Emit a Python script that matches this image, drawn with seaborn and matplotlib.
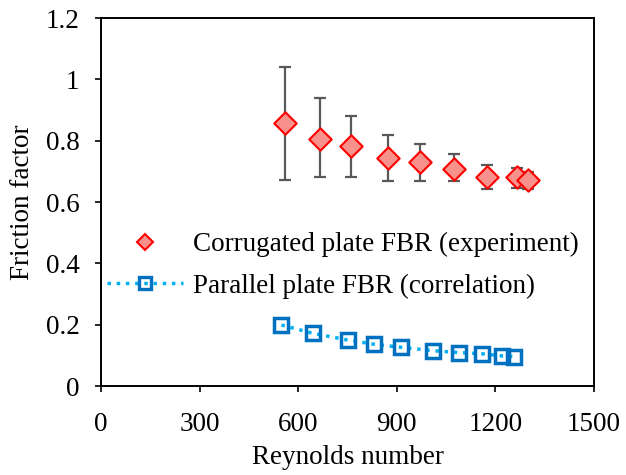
import numpy as np
import pandas as pd
import matplotlib
matplotlib.use("Agg")
import matplotlib.pyplot as plt
import seaborn as sns
from matplotlib.lines import Line2D
from matplotlib.ticker import FuncFormatter

# Data
re_exp = [559, 665, 762, 872, 972, 1075, 1175, 1266, 1300]
f_exp = [0.859, 0.807, 0.781, 0.742, 0.729, 0.706, 0.683, 0.680, 0.673]
f_exp_hi = [1.039, 0.938, 0.879, 0.820, 0.788, 0.755, 0.722, 0.712, 0.699]
f_exp_lo = [0.673, 0.680, 0.683, 0.670, 0.670, 0.670, 0.644, 0.647, 0.641]

re_cor = [549, 644, 750, 832, 914, 1011, 1090, 1160, 1221, 1257]
f_cor = [0.199, 0.172, 0.150, 0.136, 0.126, 0.115, 0.109, 0.105, 0.098, 0.096]

label_exp = "Corrugated plate FBR (experiment)"
label_cor = "Parallel plate FBR (correlation)"

sns.set_style("white")
plt.rcParams["font.family"] = ["Liberation Serif", "DejaVu Serif"]
plt.rcParams["text.color"] = "black"
plt.rcParams["axes.labelcolor"] = "black"
FS = 19.5

fig = plt.figure(figsize=(6.26, 4.75), dpi=100)
ax = fig.add_axes([101 / 626, 1 - 386 / 475, (594 - 101) / 626, (386 - 18) / 475])

df_exp = pd.DataFrame({"Re": re_exp, "f": f_exp})
df_cor = pd.DataFrame({"Re": re_cor, "f": f_cor})

yerr = np.array([np.array(f_exp) - np.array(f_exp_lo), np.array(f_exp_hi) - np.array(f_exp)])
ax.errorbar(re_exp, f_exp, yerr=yerr, fmt="none", ecolor="#595959",
            elinewidth=1.6, capsize=4.5, capthick=1.6, zorder=2)

sns.lineplot(data=df_cor, x="Re", y="f", ax=ax, color="#00B0F0", linestyle=":",
             linewidth=2.5, marker="s", markersize=10, markerfacecolor="none",
             markeredgecolor="#0070C0", markeredgewidth=2.5, zorder=3,
             estimator=None, sort=False)

sns.scatterplot(data=df_exp, x="Re", y="f", ax=ax, marker="D", s=130,
                color="#F8918B", edgecolor="#FF0000", linewidth=1.5, zorder=4)

ax.set_xlim(0, 1500)
ax.set_ylim(0, 1.2)
ax.set_xticks([0, 300, 600, 900, 1200, 1500])
ax.set_yticks([0, 0.2, 0.4, 0.6, 0.8, 1.0, 1.2])
ax.yaxis.set_major_formatter(FuncFormatter(lambda v, p: f"{v:g}"))

for sp in ax.spines.values():
    sp.set_visible(True)
    sp.set_color("black")
    sp.set_linewidth(1.4)

ax.tick_params(axis="both", direction="out", length=4.5, width=1.2, color="black",
               labelsize=FS, labelcolor="black", bottom=True, left=True)
ax.tick_params(axis="x", pad=14)
ax.tick_params(axis="y", pad=11)

ax.set_xlabel("Reynolds number", fontsize=FS, labelpad=6)
ax.set_ylabel("Friction factor", fontsize=FS, labelpad=7.5)

handles = [
    Line2D([], [], linestyle="none", marker="D", markersize=8,
           markerfacecolor="#F8918B", markeredgecolor="#FF0000", markeredgewidth=1.5),
    Line2D([], [], color="#00B0F0", linestyle=":", linewidth=2.5, marker="s",
           markersize=9, markerfacecolor="none", markeredgecolor="#0070C0",
           markeredgewidth=2.4),
]
ax.legend(handles, [label_exp, label_cor], loc="center left",
          bbox_to_anchor=(0.012, 0.328), frameon=False, fontsize=FS,
          handlelength=2.8, handletextpad=0.37, labelspacing=0.6,
          borderpad=0, borderaxespad=0)

fig.savefig("out.png", dpi=100)
